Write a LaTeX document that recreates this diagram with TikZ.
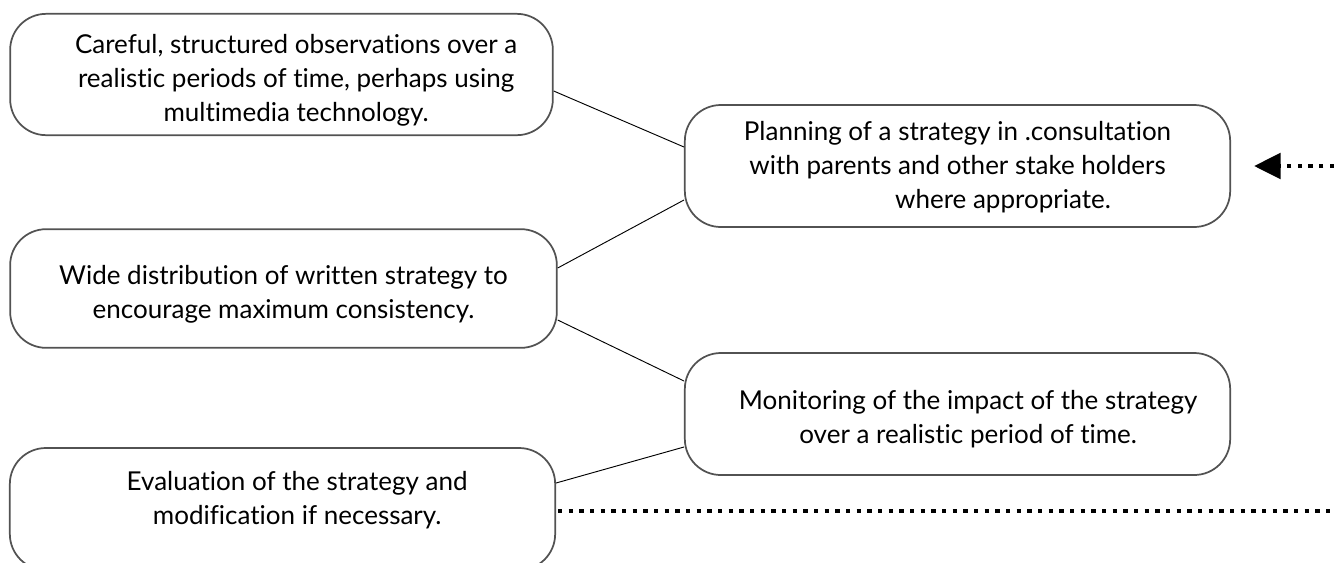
\documentclass[tikz,border=0pt]{standalone}
\usepackage{fontspec}
\setmainfont{Lato}[Ligatures=NoCommon]
\usetikzlibrary{arrows.meta}
\usetikzlibrary{calc}
\usetikzlibrary{positioning}

\tikzset{
  stagebox/.style={draw=black!68, line width=1.3pt, rounded corners=27pt},
  stagetext/.style={align=center, font=\fontsize{19.5}{25.5}\selectfont},
  link/.style={draw=black, line width=0.7pt},
  flowdots/.style={line width=3.3pt, dash pattern=on 3.3pt off 4.7pt}
}

\begin{document}
\begin{tikzpicture}[x=0.75pt,y=-0.75pt]
  \useasboundingbox (0,0) rectangle (1334,562);

  %% left column
  \node[stagebox, minimum width=407pt, minimum height=91pt,
    label={[stagetext, xshift=11pt, yshift=-4pt]center:Careful, structured observations over a\\realistic periods of time, perhaps using\\multimedia technology.}]
    (obs) at (281.5,74.5) {};
  \node[stagebox, minimum width=410pt, minimum height=89pt,
    label={[stagetext, yshift=-4pt]center:Wide distribution of written strategy to\\encourage maximum consistency.}]
    (dist) at (283.5,288.5) {};
  \node[stagebox, minimum width=409pt, minimum height=91.5pt,
    label={[stagetext, xshift=11pt, yshift=7pt]center:Evaluation of the strategy and\\modification if necessary.}]
    (eval) at (282.5,509) {};

  %% right column
  \node[stagebox, minimum width=409pt, minimum height=91.5pt,
    label={[stagetext, yshift=-1pt]center:Planning of a strategy in .consultation\\with parents and other stake holders\\\hspace*{3.5em}where appropriate.}]
    (plan) at (957.5,166) {};
  \node[stagebox, minimum width=409pt, minimum height=91.5pt,
    label={[stagetext, xshift=8pt, yshift=-4pt]center:Monitoring of the impact of the strategy\\over a realistic period of time.}]
    (mon) at (957.5,414) {};

  %% connectors
  \draw[link] ($(obs.east)+(0,16.5)$) -- ($(plan.west)+(0,-19)$);
  \draw[link] ($(dist.east)+(0,-20.5)$) -- ($(plan.west)+(0,34)$);
  \draw[link] ($(dist.east)+(0,31.5)$) -- ($(mon.west)+(0,-33)$);
  \draw[link] ($(eval.east)+(0,-26)$) -- ($(mon.west)+(0,33)$);

  % feedback
  \coordinate (planin) at (1334,166);
  \coordinate (evalout) at (1334,511);
  \draw[flowdots, -{Triangle[length=20pt,width=19pt]}] (planin) -- ($(plan.east)+(23,0)$);
  \draw[flowdots] ($(eval.east)+(2,2)$) -- (evalout);
\end{tikzpicture}
\end{document}
